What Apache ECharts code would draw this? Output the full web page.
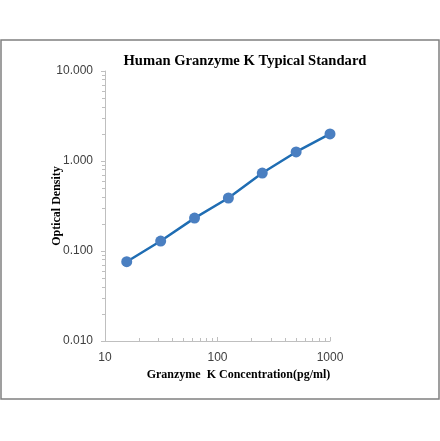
<!DOCTYPE html>
<html>
<head>
<meta charset="utf-8">
<script src="https://cdn.jsdelivr.net/npm/echarts@6/dist/echarts.min.js"></script>
<style>
  html, body { margin: 0; padding: 0; background: #fff; }
  #chart { width: 440px; height: 441px; }
</style>
</head>
<body>
<div id="chart"></div>
<script>
// standard curve data
var concentrations = [15.6, 31.25, 62.5, 125, 250, 500, 1000];
var densities = [0.076, 0.129, 0.232, 0.388, 0.735, 1.26, 2.0];
var yTicks = [0.01, 0.1, 1, 10];
var xTicks = [10, 100, 1000];

var points = concentrations.map(function(c, i) { return [c, densities[i]]; });

var chart = echarts.init(document.getElementById('chart'));
var option = {
    animation: false,
    title: {
        text: 'Human Granzyme K Typical Standard',
        left: 240,
        textAlign: 'center',
        top: 49,
        textStyle: { fontFamily: 'Liberation Serif', fontWeight: 'bold', fontSize: 14.6, color: '#000' }
    },
    graphic: [{
        type: 'rect',
        shape: { x: 1, y: 40, width: 438, height: 359 },
        style: { fill: 'none', stroke: '#808080', lineWidth: 1.5 },
        silent: true
    }],
    grid: { left: 105, right: 110, top: 71, bottom: 100 },
    xAxis: {
        type: 'log',
        logBase: 10,
        min: xTicks[0],
        max: xTicks[xTicks.length - 1],
        name: 'Granzyme  K Concentration(pg/ml)',
        nameLocation: 'middle',
        nameGap: 28,
        nameMoveOverlap: false,
        nameTextStyle: { fontFamily: 'Liberation Serif', fontWeight: 'bold', fontSize: 12, color: '#000', padding: [0, 0, 0, 42] },
        axisLine: { lineStyle: { color: '#bfbfbf', width: 1 } },
        axisTick: { show: true, inside: true, length: 4, lineStyle: { color: '#bfbfbf' } },
        minorTick: { show: true, splitNumber: 9, length: 3, lineStyle: { color: '#bfbfbf' } },
        splitLine: { show: false },
        axisLabel: {
            margin: 11,
            fontFamily: 'Liberation Sans', fontSize: 12, color: '#404040',
            formatter: function(v) { return String(Math.round(v)); }
        }
    },
    yAxis: {
        type: 'log',
        logBase: 10,
        min: yTicks[0],
        max: yTicks[yTicks.length - 1],
        name: 'Optical Density',
        nameLocation: 'middle',
        nameGap: 42,
        nameMoveOverlap: false,
        nameTextStyle: { fontFamily: 'Liberation Serif', fontWeight: 'bold', fontSize: 12, color: '#000' },
        axisLine: { show: true, lineStyle: { color: '#bfbfbf', width: 1 } },
        axisTick: { show: true, length: 4, lineStyle: { color: '#bfbfbf' } },
        minorTick: { show: true, splitNumber: 9, length: 3, lineStyle: { color: '#bfbfbf' } },
        splitLine: { show: false },
        axisLabel: {
            margin: 12,
            fontFamily: 'Liberation Sans', fontSize: 12, color: '#404040',
            formatter: function(v) { return v.toFixed(3); }
        }
    },
    series: [{
        type: 'line',
        data: points,
        symbol: 'circle',
        symbolSize: 11,
        itemStyle: { color: '#4a7fc1' },
        lineStyle: { color: '#1f6db3', width: 2.5 },
        z: 2
    }]
};
chart.setOption(option);
</script>
</body>
</html>
